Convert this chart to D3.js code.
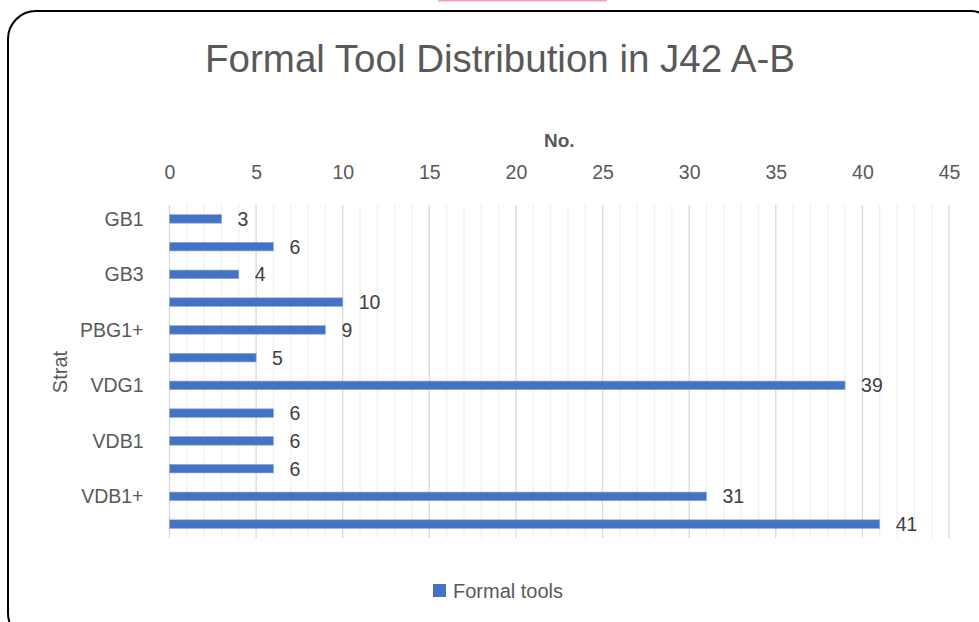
<!DOCTYPE html>
<html>
<head>
<meta charset="utf-8">
<script src="https://cdn.jsdelivr.net/npm/d3@7"></script>
<style>
  body { margin: 0; background: #fff; }
  text { font-family: "Liberation Sans", Arial, sans-serif; }
</style>
</head>
<body>
<script>
// chart data
const strata = ["GB1", "GB2", "GB3", "PBG1", "PBG1+", "VDG", "VDG1", "VDG1+", "VDB1", "VDB", "VDB1+", "VDB2"];
const formalTools = [3, 6, 4, 10, 9, 5, 39, 6, 6, 6, 31, 41];
const xTicks = [0, 5, 10, 15, 20, 25, 30, 35, 40, 45];

const W = 979, H = 622;
const margin = {top: 205, right: 30, bottom: 84, left: 169.5};
const width = 949 - margin.left,
    height = 538 - margin.top;

const svg = d3.select("body")
    .append("svg")
    .attr("width", W)
    .attr("height", H);

// pink strip at the very top of the screenshot
svg.append("rect")
    .attr("x", 438).attr("y", 0)
    .attr("width", 169).attr("height", 1.5)
    .attr("fill", "#f4a3b3");

// rounded frame
svg.append("rect")
    .attr("x", 8).attr("y", 11)
    .attr("width", 990).attr("height", 630)
    .attr("rx", 28).attr("ry", 28)
    .attr("fill", "none")
    .attr("stroke", "#000")
    .attr("stroke-width", 2);

// title
svg.append("text")
    .attr("x", 500)
    .attr("y", 72)
    .attr("text-anchor", "middle")
    .attr("font-size", "38.5px")
    .attr("fill", "#595959")
    .text("Formal Tool Distribution in J42 A-B");

const g = svg.append("g")
    .attr("transform", `translate(${margin.left}, ${margin.top})`);

const x = d3.scaleLinear()
    .domain([0, 45])
    .range([0, width]);

const y = d3.scaleBand()
    .domain(strata)
    .range([0, height])
    .paddingInner(0.69)
    .paddingOuter(0.345);

// minor gridlines every 1
g.selectAll(".minor")
    .data(d3.range(0, 46).filter(v => v % 5 !== 0))
    .enter()
    .append("line")
    .attr("class", "minor")
    .attr("x1", d => x(d)).attr("x2", d => x(d))
    .attr("y1", 0).attr("y2", height)
    .attr("stroke", "#f0f0f0")
    .attr("stroke-width", 1.3);

// major gridlines every 5
g.selectAll(".major")
    .data(xTicks)
    .enter()
    .append("line")
    .attr("class", "major")
    .attr("x1", d => x(d)).attr("x2", d => x(d))
    .attr("y1", 0).attr("y2", height)
    .attr("stroke", "#d9d9d9")
    .attr("stroke-width", 1.3);

// top x axis
const xAxis = g.append("g")
    .attr("transform", "translate(0,-23)")
    .call(d3.axisTop(x).tickValues(xTicks).tickSize(0));
xAxis.select(".domain").remove();
xAxis.selectAll("text")
    .attr("font-size", "19.5px")
    .attr("fill", "#595959")
    .style("font-family", "Liberation Sans, Arial, sans-serif");

// left y axis, every other label like Excel does
const yAxis = g.append("g")
    .attr("transform", "translate(-23,0)")
    .call(d3.axisLeft(y).tickSize(0).tickFormat((d, i) => i % 2 === 0 ? d : ""));
yAxis.select(".domain").remove();
yAxis.selectAll("text")
    .attr("font-size", "19.5px")
    .attr("fill", "#595959")
    .attr("dy", "0.35em")
    .style("font-family", "Liberation Sans, Arial, sans-serif");

// bars
g.selectAll(".bar")
    .data(formalTools)
    .enter()
    .append("rect")
    .attr("class", "bar")
    .attr("x", x(0))
    .attr("y", (d, i) => y(strata[i]))
    .attr("width", d => x(d) - x(0))
    .attr("height", y.bandwidth())
    .attr("fill", "#4472c4")
    .attr("stroke", "#8faadc")
    .attr("stroke-width", 0.6);

// data labels
g.selectAll(".label")
    .data(formalTools)
    .enter()
    .append("text")
    .attr("class", "label")
    .attr("x", d => x(d) + 16)
    .attr("y", (d, i) => y(strata[i]) + y.bandwidth() / 2 + 7)
    .attr("font-size", "19.5px")
    .attr("fill", "#404040")
    .text(d => d);

// axis titles
svg.append("text")
    .attr("x", margin.left + width / 2)
    .attr("y", 147)
    .attr("text-anchor", "middle")
    .attr("font-size", "19px")
    .attr("font-weight", "bold")
    .attr("fill", "#595959")
    .text("No.");

svg.append("text")
    .attr("transform", "translate(67, 372) rotate(-90)")
    .attr("text-anchor", "middle")
    .attr("font-size", "20px")
    .attr("fill", "#595959")
    .text("Strat");

// legend
const legend = svg.append("g")
    .attr("transform", "translate(433, 584)");
legend.append("rect")
    .attr("width", 13).attr("height", 13)
    .attr("fill", "#4472c4");
legend.append("text")
    .attr("x", 20)
    .attr("y", 14)
    .attr("font-size", "20px")
    .attr("fill", "#595959")
    .text("Formal tools");
</script>
</body>
</html>
